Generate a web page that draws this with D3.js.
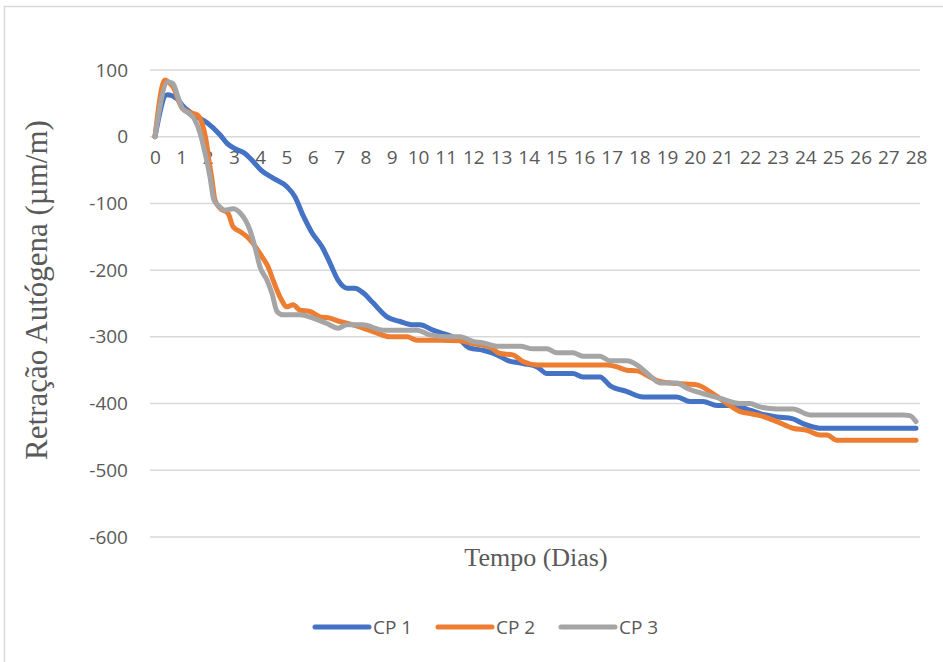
<!DOCTYPE html>
<html>
<head>
<meta charset="utf-8">
<script src="https://cdn.jsdelivr.net/npm/d3@7"></script>
<style>
  html, body { margin: 0; padding: 0; background: #fff; }
  svg { display: block; }
</style>
</head>
<body>
<svg id="chart" width="943" height="662"></svg>
<script>
// Autogenous shrinkage of three specimens over 28 days
const seriesNames = ["CP 1", "CP 2", "CP 3"];
const seriesColors = ["#4472C4", "#ED7D31", "#A5A5A5"];

const dayTicks = d3.range(0, 29);
const valueTicks = [100, 0, -100, -200, -300, -400, -500, -600];

const cp1Days = [0, 0.46, 0.84, 1.06, 1.6, 1.98, 2.47, 2.74, 3.04, 3.42, 3.73, 4.03, 4.49, 5.02, 5.32, 5.63, 5.97, 6.35, 6.65, 6.96, 7.3, 7.6, 7.91, 8.29, 8.82, 9.32, 9.81, 10.07, 10.54, 11.26, 11.52, 11.88, 12.35, 12.86, 13.22, 13.8, 14.31, 14.66, 15.6, 15.96, 16.58, 16.94, 17.55, 18.13, 19.36, 19.83, 20.3, 20.81, 21.38, 22, 22.36, 22.97, 23.55, 23.91, 24.53, 28];
const cp1Values = [0, 63, 57, 46, 30, 21, 3, -10, -18, -25, -37, -50, -62, -75, -90, -118, -144, -165, -189, -215, -227, -227, -234, -249, -270, -277, -282, -282, -290, -300, -305, -317, -320, -327, -335, -340, -345, -355, -355, -360, -360, -373, -382, -390, -390, -397, -397, -403, -403, -410, -415, -420, -423, -430, -437, -437];

const cp2Days = [0, 0.38, 0.57, 0.68, 1.03, 1.33, 1.6, 1.79, 1.94, 2.05, 2.17, 2.28, 2.47, 2.78, 2.97, 3.23, 3.5, 3.73, 4.07, 4.3, 4.49, 4.75, 5.02, 5.25, 5.51, 5.89, 6.27, 6.65, 7.03, 7.53, 8.29, 8.94, 9.58, 9.96, 10.8, 11.52, 11.99, 12.6, 12.96, 13.43, 13.79, 14.3, 16.83, 17.19, 17.55, 17.91, 18.38, 18.75, 19.36, 20.08, 20.55, 21.17, 21.64, 22, 22.36, 22.97, 23.55, 24.06, 24.53, 24.78, 25.14, 28];
const cp2Values = [0, 85, 80, 75, 43, 36, 33, 20, -5, -35, -65, -95, -107, -115, -135, -142, -150, -160, -180, -195, -215, -240, -255, -252, -260, -262, -270, -272, -277, -282, -292, -300, -300, -305, -305, -306, -310, -315, -325, -327, -337, -342, -342, -345, -350, -351, -360, -367, -370, -372, -382, -400, -412, -415, -418, -427, -437, -440, -447, -447, -455, -455];

const cp3Days = [0, 0.49, 0.68, 0.87, 1.03, 1.25, 1.52, 1.71, 1.9, 2.09, 2.24, 2.43, 2.66, 2.97, 3.23, 3.61, 3.8, 3.99, 4.26, 4.45, 4.64, 4.87, 5.51, 6.01, 6.54, 6.96, 7.3, 7.91, 8.67, 9.96, 10.43, 11.16, 11.52, 11.99, 12.35, 12.86, 13.69, 14.16, 14.66, 15.02, 15.6, 15.96, 16.58, 16.94, 17.55, 17.91, 18.27, 18.75, 19.36, 19.72, 20.3, 20.91, 21.64, 22, 22.36, 22.97, 23.55, 24.17, 27.53, 27.78, 28];
const cp3Values = [0, 82, 80, 60, 43, 36, 25, 6, -24, -60, -95, -104, -110, -108, -114, -140, -165, -195, -215, -235, -262, -267, -267, -272, -280, -287, -282, -282, -290, -290, -297, -300, -300, -307, -309, -314, -314, -318, -318, -324, -324, -329, -329, -336, -336, -342, -354, -369, -369, -377, -385, -392, -400, -400, -405, -408, -408, -417, -417, -418, -427];

const seriesDays = [cp1Days, cp2Days, cp3Days];
const seriesValues = [cp1Values, cp2Values, cp3Values];

const svg = d3.select("#chart");
const textColor = "#595959";
const gridColor = "#D9D9D9";
const sansFont = "'Open Sans', 'Noto Sans', sans-serif";
const serifFont = "'Liberation Serif', 'DejaVu Serif', serif";
const plainNumber = d => String(d);

// chart frame
svg.append("rect")
  .attr("x", 4.5).attr("y", 6.5)
  .attr("width", 960).attr("height", 720)
  .attr("fill", "#fff")
  .attr("stroke", gridColor).attr("stroke-width", 1.5);

const plotLeft = 150, plotRight = 920;

// day axis: tick labels are spaced a little tighter for the first ten days
const x = d3.scaleLinear().domain([0, 10, 28]).range([155, 418, 916]);
const y = d3.scaleLinear().domain([-600, 100]).range([537, 70]);

// horizontal gridlines
svg.append("g")
  .selectAll("line")
  .data(valueTicks)
  .join("line")
  .attr("x1", plotLeft).attr("x2", plotRight)
  .attr("y1", d => y(d)).attr("y2", d => y(d))
  .attr("stroke", gridColor).attr("stroke-width", 1.5);

// value axis labels
const yAxis = d3.axisLeft(y).tickValues(valueTicks).tickSize(0).tickPadding(0).tickFormat(plainNumber);
const yG = svg.append("g").attr("transform", "translate(128,0)").call(yAxis);
yG.select(".domain").remove();
yG.selectAll("text")
  .attr("fill", textColor)
  .style("font-family", sansFont)
  .style("font-size", "19px");

// day labels sit just under the zero line
const xAxis = d3.axisBottom(x).tickValues(dayTicks).tickSize(0).tickPadding(0).tickFormat(plainNumber);
const xG = svg.append("g").attr("transform", "translate(0,150)").call(xAxis);
xG.select(".domain").remove();
xG.selectAll("text")
  .attr("fill", textColor)
  .style("font-family", sansFont)
  .style("font-size", "19px");

// series lines
const line = d3.line()
  .x(d => x(d[0]))
  .y(d => y(d[1]))
  .curve(d3.curveMonotoneX);

seriesNames.forEach((name, i) => {
  const pts = seriesDays[i].map((d, j) => [d, seriesValues[i][j]]);
  svg.append("path")
    .datum(pts)
    .attr("d", line)
    .attr("fill", "none")
    .attr("stroke", seriesColors[i])
    .attr("stroke-width", 5)
    .attr("stroke-linejoin", "round")
    .attr("stroke-linecap", "round");
});

// axis titles
svg.append("text")
  .attr("transform", "translate(47,290) rotate(-90)")
  .attr("text-anchor", "middle")
  .attr("fill", textColor)
  .style("font-family", serifFont)
  .style("font-size", "31px")
  .text("Retração Autógena (µm/m)");

svg.append("text")
  .attr("x", 536).attr("y", 566)
  .attr("text-anchor", "middle")
  .attr("fill", textColor)
  .style("font-family", serifFont)
  .style("font-size", "26px")
  .text("Tempo (Dias)");

// legend
const legend = svg.append("g").attr("transform", "translate(313,627)");
const item = legend.selectAll("g")
  .data(seriesNames)
  .join("g")
  .attr("transform", (d, i) => `translate(${i * 123},0)`);
item.append("line")
  .attr("x1", 2).attr("x2", 56)
  .attr("y1", 0).attr("y2", 0)
  .attr("stroke", (d, i) => seriesColors[i])
  .attr("stroke-width", 5)
  .attr("stroke-linecap", "round");
item.append("text")
  .attr("x", 60).attr("y", 0)
  .attr("dy", "0.35em")
  .attr("fill", textColor)
  .style("font-family", sansFont)
  .style("font-size", "19px")
  .text(d => d);
</script>
</body>
</html>
